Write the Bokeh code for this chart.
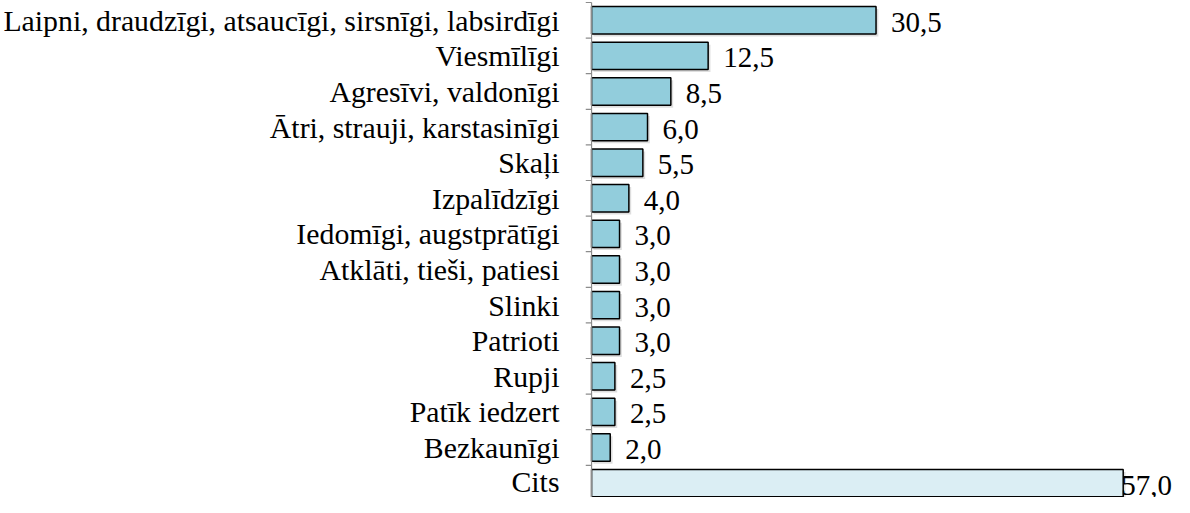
from bokeh.plotting import figure
from bokeh.models import Range1d, FixedTicker, ColumnDataSource
from bokeh.embed import file_html
from bokeh.resources import INLINE
from bokeh.core.properties import value

categories = [
    "Laipni, draudzīgi, atsaucīgi, sirsnīgi, labsirdīgi",
    "Viesmīlīgi",
    "Agresīvi, valdonīgi",
    "Ātri, strauji, karstasinīgi",
    "Skaļi",
    "Izpalīdzīgi",
    "Iedomīgi, augstprātīgi",
    "Atklāti, tieši, patiesi",
    "Slinki",
    "Patrioti",
    "Rupji",
    "Patīk iedzert",
    "Bezkaunīgi",
    "Cits",
]
values = [30.5, 12.5, 8.5, 6.0, 5.5, 4.0, 3.0, 3.0, 3.0, 3.0, 2.5, 2.5, 2.0, 57.0]
labels = ["30,5", "12,5", "8,5", "6,0", "5,5", "4,0", "3,0", "3,0", "3,0", "3,0", "2,5", "2,5", "2,0", "57,0"]

n = len(categories)
ys = [n - i - 0.5 for i in range(n)]
colors = ["#92CDDC"] * (n - 1) + ["#DBEEF4"]
xoff = [15] * (n - 1) + [-2]

FONT = "Times New Roman"

p = figure(width=1174, height=497, output_backend="svg", toolbar_location=None,
           x_range=Range1d(-0.65, 62.5), y_range=Range1d(0.096, 14.056),
           min_border=0, min_border_left=0, min_border_top=0, min_border_bottom=0, min_border_right=0)
p.outline_line_color = None
p.xgrid.visible = False
p.ygrid.visible = False
p.xaxis.visible = False

yax = p.yaxis[0]
yax.ticker = FixedTicker(ticks=ys)
yax.major_label_overrides = {y: c for y, c in zip(ys, categories)}
yax.axis_line_color = None
yax.major_tick_line_color = None
yax.minor_tick_line_color = None
yax.major_label_text_font = FONT
yax.major_label_text_font_size = "29.8px"
yax.major_label_text_color = "#000000"
yax.major_label_standoff = 20

src = ColumnDataSource(dict(y=ys, v=values, lab=labels, c=colors, xo=xoff,
                            ys=[y - 0.07 for y in ys], vs=[v + 0.25 for v in values]))

# faint shadow
p.hbar(y="ys", left=0.2, right="vs", height=0.77, source=src, fill_color="#000000",
       fill_alpha=0.13, line_color=None)
p.hbar(y="y", left=0, right="v", height=0.77, source=src, fill_color="c",
       line_color="#000000", line_width=1.5)

# axis line and boundary ticks
bounds = list(range(n + 1))
p.segment(x0=0, x1=0, y0=0, y1=n, line_color="#8C8C8C", line_width=1.2)
p.segment(x0=[-0.65] * len(bounds), x1=[0] * len(bounds), y0=bounds, y1=bounds,
          line_color="#8C8C8C", line_width=1.2)

p.text(x="v", y="y", text="lab", source=src, x_offset="xo", y_offset=2,
       text_font=value(FONT), text_font_size="29px", text_baseline="middle",
       text_align="left", text_color="#000000")

open("out.html", "w").write(file_html(p, INLINE))
